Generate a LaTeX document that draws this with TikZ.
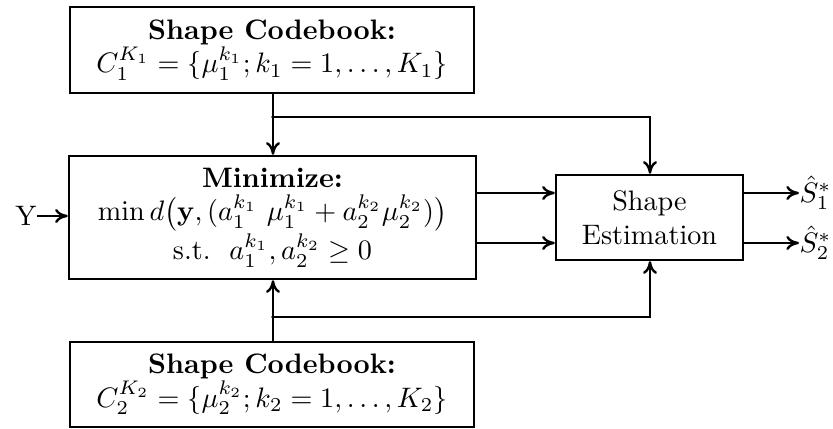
\documentclass[tikz,border=0pt]{standalone}
\usepackage{amsmath,amssymb}
\usetikzlibrary{arrows.meta}
\newdimen\pxu \pxu=0.355pt
\begin{document}
\begin{tikzpicture}[x=0.355pt,y=-0.355pt,
  blk/.style={draw,line width=0.85pt,align=center,inner sep=0pt},
  conn/.style={line width=0.85pt,-{To[length=4.5pt,width=5pt]}},
  wire/.style={line width=0.85pt},
  jdot/.style={circle,fill,inner sep=0pt,minimum size=1.3pt}]
\useasboundingbox (0,0) rectangle (833,429);

% blocks
\node[blk,minimum width=404\pxu,minimum height=86\pxu] (cb1) at (272,50)
  {\textbf{Shape Codebook:}\\ $C_1^{K_1}=\{\mu_1^{k_1};k_1=1,\ldots,K_1\}$};
\node[blk,minimum width=407\pxu,minimum height=123\pxu] (min) at (272.5,217.5)
  {\textbf{Minimize:}\\ $\min d\bigl(\mathbf{y},(a_1^{k_1}\ \mu_1^{k_1}+a_2^{k_2}\mu_2^{k_2})\bigr)$\\
   s.t.\ \ $a_1^{k_1},a_2^{k_2}\geq 0$};
\node[blk,minimum width=404\pxu,minimum height=85\pxu] (cb2) at (272,384.5)
  {\textbf{Shape Codebook:}\\ $C_2^{K_2}=\{\mu_2^{k_2};k_2=1,\ldots,K_2\}$};
\node[blk,minimum width=187\pxu,minimum height=85\pxu] (est) at (649.5,217.5)
  {Shape\\ Estimation};

% input and outputs
\node[anchor=east,inner sep=0pt] (y) at (37,216) {Y};
\node[anchor=west,inner sep=0pt] (s1) at (799,193) {$\hat{S}_1^{*}$};
\node[anchor=west,inner sep=0pt] (s2) at (799,243) {$\hat{S}_2^{*}$};

% junction points
\coordinate (j1) at (273,117);
\coordinate (j2) at (273,317);
\coordinate (c1) at (650,117);
\coordinate (c2) at (650,317);

% codebook feeds
\draw[wire] (cb1.south -| j1) -- (j1);
\draw[conn] (j1) -- (j1 |- min.north);
\draw[conn] (j1) -- (c1) -- (c1 |- est.north);
\node[jdot] at (j1) {};
\draw[wire] (cb2.north -| j2) -- (j2);
\draw[conn] (j2) -- (j2 |- min.south);
\draw[conn] (j2) -- (c2) -- (c2 |- est.south);
\node[jdot] at (j2) {};

% signal path
\draw[conn] (y.east) -- (y.east -| min.west);
\draw[conn] (min.east |- 0,193) -- (est.west |- 0,193);
\draw[conn] (min.east |- 0,243) -- (est.west |- 0,243);
\draw[conn] (est.east |- s1.west) -- (s1.west);
\draw[conn] (est.east |- s2.west) -- (s2.west);
\end{tikzpicture}
\end{document}
